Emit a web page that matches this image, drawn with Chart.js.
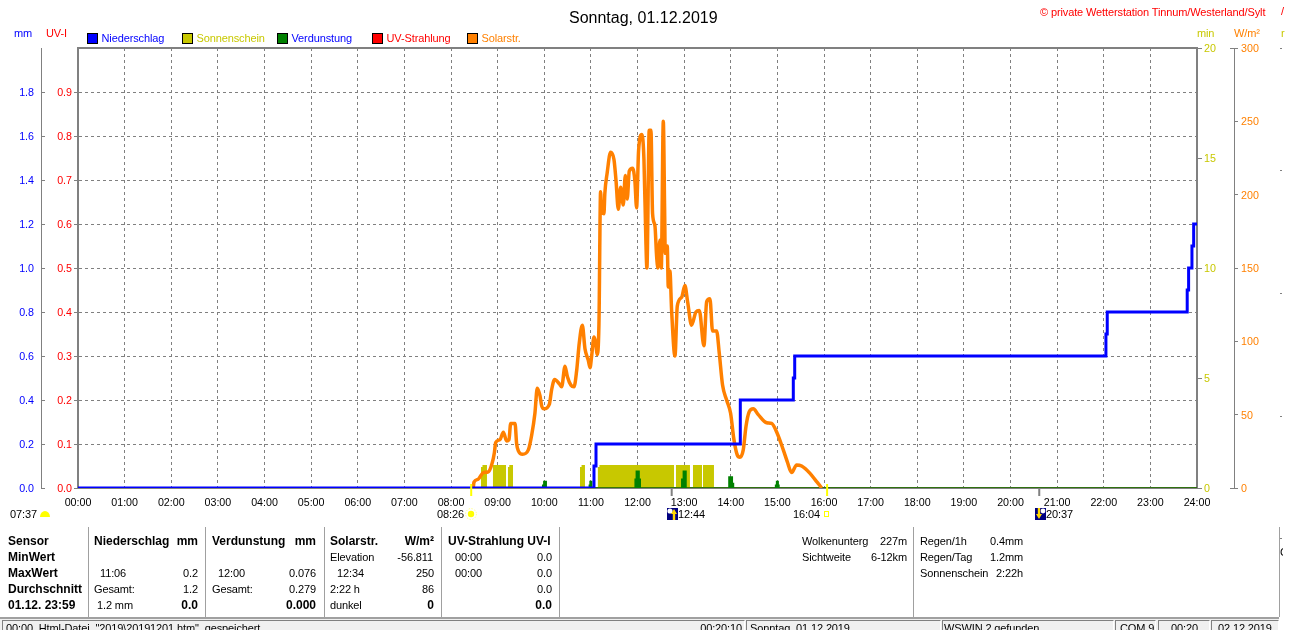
<!DOCTYPE html>
<html><head><meta charset="utf-8">
<script src="https://cdn.jsdelivr.net/npm/chart.js@4"></script>
<style>
html,body{margin:0;padding:0;background:#fff;width:1310px;height:630px;overflow:hidden;font-family:"Liberation Sans",Arial,sans-serif;font-size:11px;color:#000}
#c{position:absolute;left:0;top:0}
.t{position:absolute;white-space:pre;line-height:14px;height:14px;letter-spacing:-.12px}
.b{font-weight:bold;font-size:12px;letter-spacing:0}
.box{position:absolute}
</style></head><body>
<canvas id="c" width="1310" height="630"></canvas>
<div id="dom"></div>
<script>
// ---- data (time in minutes after midnight) ----
const title = "Sonntag, 01.12.2019";
const credit = "\u00A9 private Wetterstation Tinnum/Westerland/Sylt";
const seriesNames = ["Niederschlag","Sonnenschein","Verdunstung","UV-Strahlung","Solarstr."];
const seriesColors = ["#0000FF","#C8C800","#008000","#FF0000","#FF8000"];
const labelColors = ["#0000FF","#C8C800","#0000FF","#FF0000","#FF8000"];

const rainTimes = [0,664,666.6,852.3,920.5,922.3,1322.8,1324.5,1427.4,1429.2,1433.5,1435.7,1440];
const rainValues = [0,0.1,0.2,0.4,0.5,0.6,0.7,0.8,0.9,1.0,1.1,1.2,1.2];

const sunTimes = [0,518.6,520.5,526.3,534,550.8,553.3,555,559.8,646,648,652.4,669,671,767,769.5,787.5,791.4,803,804.3,818.4,1440];
const sunValues = [0,0.95,1.05,0,1.05,0,0.95,1.05,0,0.95,1.05,0,0.95,1.05,0,1.05,0,1.05,0,1.05,0,0];

const evapTimes = [0,598,599.5,602.5,658,659,661,717,718.5,722,723.5,777,779,782.4,837.7,842,843.5,897.7,899,901,902,1440];
const evapValues = [0,0.012,0.029,0,0.012,0.029,0,0.04,0.076,0.04,0,0.04,0.076,0,0.05,0.02,0,0.012,0.029,0.012,0,0];

const uvTimes = [0,1440];
const uvValues = [0,0];

const solarTimes = [508.7,509.6,515,521.6,528,533,535.8,537.5,543,547.4,551.6,554.6,556.8,562.4,564.5,567,572,579.5,583.8,588,591,594.5,596.7,599.7,606.5,609.5,613.4,619.4,622.4,626.7,629.7,634.4,638.3,641.7,645.1,649,652.4,656.7,658.9,661,664,666.6,668,670.4,672.5,673.8,676.8,678,681,685.4,689.7,692.3,695.3,698.3,701.7,704.3,706.8,709.4,713.7,716.7,718.8,721.4,725.7,728.3,730.9,732.1,735.1,737.3,739.4,742.4,744.6,746.3,748.9,750.6,753.2,754.9,755.7,758.3,759.6,761.7,763.9,768.2,771.2,776.8,781,784.5,789.6,795.2,799.5,805.5,809,813.2,816.6,821.8,825.2,829.5,834.7,839.8,844.1,848.4,851.8,856.1,859.6,863.8,869,875.4,886.2,892.6,900,907.6,912.7,918.3,924.8,931.2,942,950.5,955.6,957];
const solarValues = [0.5,4,6,10.5,11,17,24,31,33,38,32,33,44,44,30,25,23,26,36,51,68,63,56,54,57,67,74,71,69,83,76,70,69,80,99,111,95,87,82,90,103,97,91,112,202,188,187,201,215,229,224,210,190,205,193,213,197,216,218,209,191,230,241,224,166,150,244,244,187,179,158,150,169,150,250,190,160,165,137,148,121,90,124,130,138,127,111,120,121,97,127,129,107,107,92,70,60,51,33,22.5,21,26,42,52,54,50,44.5,44,37,26,18,10.5,15.7,15,10,4.3,1,0];

const sunEvents = [506,964];
const moonEvents = [764,1237];

const hourTicks = ["00","01","02","03","04","05","06","07","08","09","10","11","12","13","14","15","16","17","18","19","20","21","22","23","24"];

// ---- helpers ----
const zip = (xs,ys)=>xs.map((x,i)=>({x,y:ys[i]}));
const marks = (xs,hi,lo)=>xs.flatMap(x=>[{x,y:hi},{x,y:lo},{x,y:null}]);
const GRAY = "#808080";
const FONT = {family:"'Liberation Sans',Arial,sans-serif",size:10.7};
const noClip = {left:0,top:0,right:0,bottom:0};
const base = {pointRadius:0,pointHoverRadius:0,tension:0,fill:false};

new Chart(document.getElementById("c"),{
  type:"line",
  data:{datasets:[
    {...base,label:"Sonnenaufgang",data:marks(sunEvents,0.018,-0.036),borderColor:"#FFFF00",borderWidth:2,xAxisID:"x",yAxisID:"yMM",clip:false},
    {...base,label:"Mond",data:marks(moonEvents,0,-0.036),borderColor:GRAY,borderWidth:2,xAxisID:"x",yAxisID:"yMM",clip:false},
    {...base,label:seriesNames[0],data:zip(rainTimes,rainValues),borderColor:seriesColors[0],borderWidth:3,stepped:true,xAxisID:"x",yAxisID:"yMM",clip:noClip},
    {...base,label:seriesNames[4],data:zip(solarTimes,solarValues),borderColor:seriesColors[4],borderWidth:3.5,borderJoinStyle:"round",cubicInterpolationMode:"monotone",xAxisID:"x",yAxisID:"yW"},
    {...base,label:seriesNames[2],data:zip(evapTimes,evapValues),borderColor:seriesColors[2],backgroundColor:seriesColors[2],borderWidth:1.5,stepped:true,fill:"origin",xAxisID:"x",yAxisID:"yMM",clip:noClip},
    {...base,label:seriesNames[3],data:zip(uvTimes,uvValues),borderColor:seriesColors[3],borderWidth:1,xAxisID:"x",yAxisID:"yUV",clip:noClip},
    {...base,label:seriesNames[1],data:zip(sunTimes,sunValues),borderColor:seriesColors[1],backgroundColor:seriesColors[1],borderWidth:0,stepped:true,fill:"origin",xAxisID:"x",yAxisID:"yMin",clip:noClip}
  ]},
  options:{
    responsive:false,animation:false,devicePixelRatio:1,
    events:[],
    layout:{padding:{top:48,left:0,right:0,bottom:0}},
    plugins:{legend:{display:false},title:{display:false},tooltip:{enabled:false}},
    scales:{
      x:{type:"linear",position:"bottom",min:0,max:1440,weight:1,
        afterFit:s=>{s.height=142},
        grid:{color:GRAY,lineWidth:1,drawTicks:false},
        border:{display:true,color:GRAY,width:2,dash:[3,3]},
        ticks:{stepSize:60,autoSkip:false,maxRotation:0,minRotation:0,padding:9,color:"#000",font:FONT,
          callback:v=>hourTicks[v/60]+":00"}},
      xTop:{type:"linear",position:"top",min:0,max:1440,
        afterFit:s=>{s.height=0},
        grid:{display:false,drawTicks:false},border:{display:true,color:GRAY,width:2},
        ticks:{display:false}},
      yMM:{type:"linear",position:"left",min:0,max:2,weight:2,
        afterFit:s=>{s.width=41},
        grid:{color:GRAY,lineWidth:1,tickLength:-4,tickColor:c=>c.tick.value===2?"transparent":GRAY},
        border:{display:true,color:GRAY,width:1,dash:[3,3]},
        ticks:{stepSize:0.2,autoSkip:false,padding:11,labelOffset:1,color:"#0000FF",font:FONT,
          callback:v=>v>=2?"":v.toFixed(1)}},
      yUV:{type:"linear",position:"left",min:0,max:1,weight:1,
        afterFit:s=>{s.width=37},
        grid:{drawOnChartArea:false,tickLength:4,tickColor:c=>c.tick.value===1?"transparent":GRAY},
        border:{display:true,color:GRAY,width:2},
        ticks:{stepSize:0.1,autoSkip:false,padding:2,labelOffset:1,color:"#FF0000",font:FONT,
          callback:v=>v>=1?"":v.toFixed(1)}},
      yMin:{type:"linear",position:"right",min:0,max:20,weight:1,
        afterFit:s=>{s.width=37},
        grid:{drawOnChartArea:false,tickLength:5,tickColor:GRAY},
        border:{display:true,color:GRAY,width:2},
        ticks:{stepSize:5,autoSkip:false,padding:2,labelOffset:1,color:"#C8C800",font:FONT}},
      yW:{type:"linear",position:"right",min:0,max:300,weight:2,
        afterFit:s=>{s.width=76},
        grid:{drawOnChartArea:false,tickLength:4,tickColor:GRAY},
        border:{display:true,color:GRAY,width:1},
        ticks:{stepSize:50,autoSkip:false,padding:3,labelOffset:1,color:"#FF8000",font:FONT}}
    }
  }
});

// ---- surrounding text, as in the original window ----
const dom = document.getElementById("dom");
function txt(x,yc,s,o={}){
  const d=document.createElement("div");d.className="t"+(o.b?" b":"");d.textContent=s;
  d.style.top=(yc-7)+"px";
  if(o.r!==undefined){d.style.right=(1310-o.r)+"px"}else{d.style.left=x+"px"}
  if(o.c)d.style.color=o.c;
  if(o.s){d.style.fontSize=o.s+"px";d.style.lineHeight=(o.s+4)+"px";d.style.height=(o.s+4)+"px";d.style.letterSpacing="0"}
  dom.appendChild(d);return d;
}
function box(x,y,w,h,css){
  const d=document.createElement("div");d.className="box";
  d.style.cssText+=`left:${x}px;top:${y}px;width:${w}px;height:${h}px;${css||""}`;
  dom.appendChild(d);return d;
}
function svg(x,y,w,h,inner){
  const d=box(x,y,w,h);
  d.innerHTML=`<svg width="${w}" height="${h}" viewBox="0 0 ${w} ${h}" style="display:block">${inner}</svg>`;
}

txt(569,15,title,{s:16});
txt(1040,12,credit,{c:"#FF0000"});
txt(1281,11,"/",{c:"#FF0000"});
txt(1281,33,"r",{c:"#C8C800"});

txt(14,33,"mm",{c:"#0000FF"});
txt(46,33,"UV-I",{c:"#FF0000"});
txt(1197,33,"min",{c:"#C8C800"});
txt(1234,33,"W/m\u00B2",{c:"#FF8000"});

const legendX=[87,182,277,372,467];
seriesNames.forEach((n,i)=>{
  box(legendX[i],33,9,9,`background:${seriesColors[i]};border:1px solid #000`);
  txt(legendX[i]+14.5,37.5,n,{c:labelColors[i]});
});

// long end ticks on the W/m2 axis and stray ticks at the window edge
box(1230,48,4,1,"background:"+GRAY);
box(1230,488,4,1,"background:"+GRAY);
[48,170,293,416,538].forEach(y=>box(1280,y,2,1,"background:"+GRAY));

// sun and moon times
txt(10,513.5,"07:37");
svg(40,509,10,8,'<path d="M0 8 A5 6 0 0 1 10 8 Z" fill="#FFFF00"/>');
txt(437,514,"08:26");
svg(465,508,12,12,'<circle cx="6" cy="6" r="3.2" fill="#FFFF00"/><circle cx="6" cy="6" r="5.4" fill="none" stroke="#FFFF00" stroke-opacity=".45" stroke-dasharray="1.4 1.4"/>');
txt(678,514,"12:44");
svg(667,508,11,12,'<rect width="11" height="12" fill="#000080"/><circle cx="3" cy="3" r="2.6" fill="#fff"/><path d="M7 1 L10 6 H8.2 V12 H5.8 V6 H4 Z" fill="#FFD800"/>');
txt(793,514,"16:04");
box(823.5,511,3,4,"border:1px solid #FFFF00");
svg(1035,508,11,12,'<rect width="11" height="12" fill="#000080"/><circle cx="8" cy="3" r="2.4" fill="#fff"/><path d="M4 11 L1 6 H2.8 V0 H5.2 V6 H7 Z" fill="#FFD800"/>');
txt(1046,514,"20:37");

// summary table
const rows=[541,557,573,589,605];
["Sensor","MinWert","MaxWert","Durchschnitt","01.12. 23:59"].forEach((s,i)=>txt(8,rows[i],s,{b:1}));
[88,205,324,441,559,913,1279].forEach(x=>box(x,527,1,90,"background:#A0A0A0"));

txt(94,rows[0],"Niederschlag",{b:1});txt(0,rows[0],"mm",{b:1,r:198});
txt(100,rows[2],"11:06");txt(0,rows[2],"0.2",{r:198});
txt(94,rows[3],"Gesamt:");txt(0,rows[3],"1.2",{r:198});
txt(97,rows[4],"1.2 mm");txt(0,rows[4],"0.0",{b:1,r:198});

txt(212,rows[0],"Verdunstung",{b:1});txt(0,rows[0],"mm",{b:1,r:316});
txt(218,rows[2],"12:00");txt(0,rows[2],"0.076",{r:316});
txt(212,rows[3],"Gesamt:");txt(0,rows[3],"0.279",{r:316});
txt(0,rows[4],"0.000",{b:1,r:316});

txt(330,rows[0],"Solarstr.",{b:1});txt(0,rows[0],"W/m\u00B2",{b:1,r:434});
txt(330,rows[1],"Elevation");txt(0,rows[1],"-56.811",{r:433});
txt(337,rows[2],"12:34");txt(0,rows[2],"250",{r:434});
txt(330,rows[3],"2:22 h");txt(0,rows[3],"86",{r:434});
txt(330,rows[4],"dunkel");txt(0,rows[4],"0",{b:1,r:434});

txt(448,rows[0],"UV-Strahlung UV-I",{b:1});
txt(455,rows[1],"00:00");txt(0,rows[1],"0.0",{r:552});
txt(455,rows[2],"00:00");txt(0,rows[2],"0.0",{r:552});
txt(0,rows[3],"0.0",{r:552});
txt(0,rows[4],"0.0",{b:1,r:552});

txt(802,rows[0],"Wolkenunterg");txt(0,rows[0],"227m",{r:907});
txt(802,rows[1],"Sichtweite");txt(0,rows[1],"6-12km",{r:907});
txt(920,rows[0],"Regen/1h");txt(0,rows[0],"0.4mm",{r:1023});
txt(920,rows[1],"Regen/Tag");txt(0,rows[1],"1.2mm",{r:1023});
txt(920,rows[2],"Sonnenschein");txt(0,rows[2],"2:22h",{r:1023});
const cut=txt(1280,552,"C");cut.style.width="3px";cut.style.overflow="hidden";

// status bar
box(0,617,1279,2,"background:#A0A0A0");
box(0,619,1279,11,"background:#F0F0F0");
[[2,744],[746,940],[942,1113],[1115,1155],[1158,1209],[1211,1278]].forEach(p=>{
  box(p[0],620,p[1]-p[0]-1,10,"border-top:1px solid #808080;border-left:1px solid #808080;border-right:1px solid #fff");
});
txt(6,628,'00:00  Html-Datei  "2019\\20191201.htm"  gespeichert');
txt(0,628,"00:20:10",{r:742});
txt(750,628,title);
txt(944,628,"WSWIN 2 gefunden");
txt(1120,628,"COM 9");
txt(1171,628,"00:20");
txt(1218,628,"02.12.2019");
</script>
</body></html>
